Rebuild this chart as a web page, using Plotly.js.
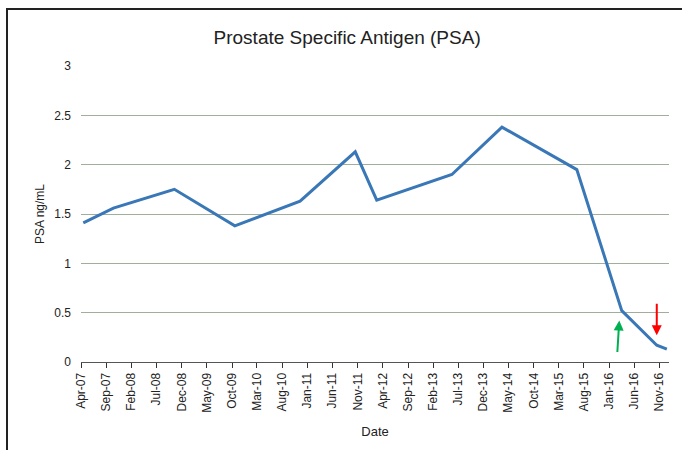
<!DOCTYPE html>
<html>
<head>
<meta charset="utf-8">
<script src="https://cdn.plot.ly/plotly-3.0.1.min.js"></script>
<style>
  html, body { margin: 0; padding: 0; background: #fff; }
  #wrap { position: relative; width: 682px; height: 450px; }
  #chart { width: 682px; height: 450px; }
  #frame { position: absolute; left: 6px; top: 8px; right: 0; bottom: 0;
           border-left: 2px solid #222; border-top: 2px solid #222; pointer-events: none; }
</style>
</head>
<body>
<div id="wrap">
  <div id="chart"></div>
  <div id="frame"></div>
</div>
<script>
// Data
const dates = ['2007-04-15', '2007-10-14', '2008-10-17', '2009-10-18', '2010-11-17', '2011-10-17',
               '2012-02-24', '2013-05-24', '2014-03-23', '2015-06-19', '2016-03-17', '2016-10-15', '2016-12-15'];
const psa = [1.41, 1.56, 1.75, 1.38, 1.63, 2.13, 1.64, 1.90, 2.38, 1.95, 0.52, 0.17, 0.13];

const titleText = 'Prostate Specific Antigen (PSA)';
const xTitle = 'Date';
const yTitle = 'PSA ng/mL';

const FONT = '"Liberation Sans Narrow", "Liberation Sans", Arial, sans-serif';

const trace = {
  x: dates, y: psa, type: 'scatter', mode: 'lines',
  line: { color: '#3A77B7', width: 3 },
  hoverinfo: 'x+y'
};

const layout = {
  width: 682, height: 450,
  margin: { l: 81, r: 13, t: 66, b: 88 },
  paper_bgcolor: '#ffffff', plot_bgcolor: '#ffffff',
  showlegend: false,
  font: { family: FONT, color: '#222', size: 12 },
  title: { text: titleText, font: { family: FONT, size: 19, color: '#222' },
           xref: 'container', x: 0.509, xanchor: 'center', yref: 'container', y: 0.918, yanchor: 'middle' },
  xaxis: {
    type: 'date',
    range: ['2007-04-01', '2016-12-28'],
    tick0: '2007-04-01', dtick: 'M5', tickformat: '%b-%y',
    tickangle: -90,
    ticks: 'outside', ticklen: 5, tickcolor: '#333', tickwidth: 1,
    showline: true, linecolor: '#555', linewidth: 1,
    showgrid: false, zeroline: false,
    tickfont: { family: FONT, size: 12, color: '#222' },
    title: { text: xTitle, font: { family: FONT, size: 13, color: '#222' }, standoff: 15 }
  },
  yaxis: {
    range: [0, 3], dtick: 0.5, tick0: 0,
    showgrid: true, gridcolor: '#A0AE9C', gridwidth: 1,
    zeroline: false, showline: false, ticks: '',
    ticklabelstandoff: 9,
    tickfont: { family: FONT, size: 12, color: '#222' },
    title: { text: yTitle, font: { family: FONT, size: 12, color: '#222' }, standoff: 7 }
  },
  annotations: [
    { x: '2016-03-02', y: 0.42, xref: 'x', yref: 'y', text: '', showarrow: true,
      ax: -2, ay: 33, arrowcolor: '#00B050', arrowwidth: 2, arrowhead: 2, arrowsize: 1.0 },
    { x: '2016-10-15', y: 0.27, xref: 'x', yref: 'y', text: '', showarrow: true,
      ax: 0, ay: -33, arrowcolor: '#FF0000', arrowwidth: 2, arrowhead: 2, arrowsize: 1.0 }
  ]
};

Plotly.newPlot('chart', [trace], layout, { displayModeBar: false, staticPlot: true });
</script>
</body>
</html>
